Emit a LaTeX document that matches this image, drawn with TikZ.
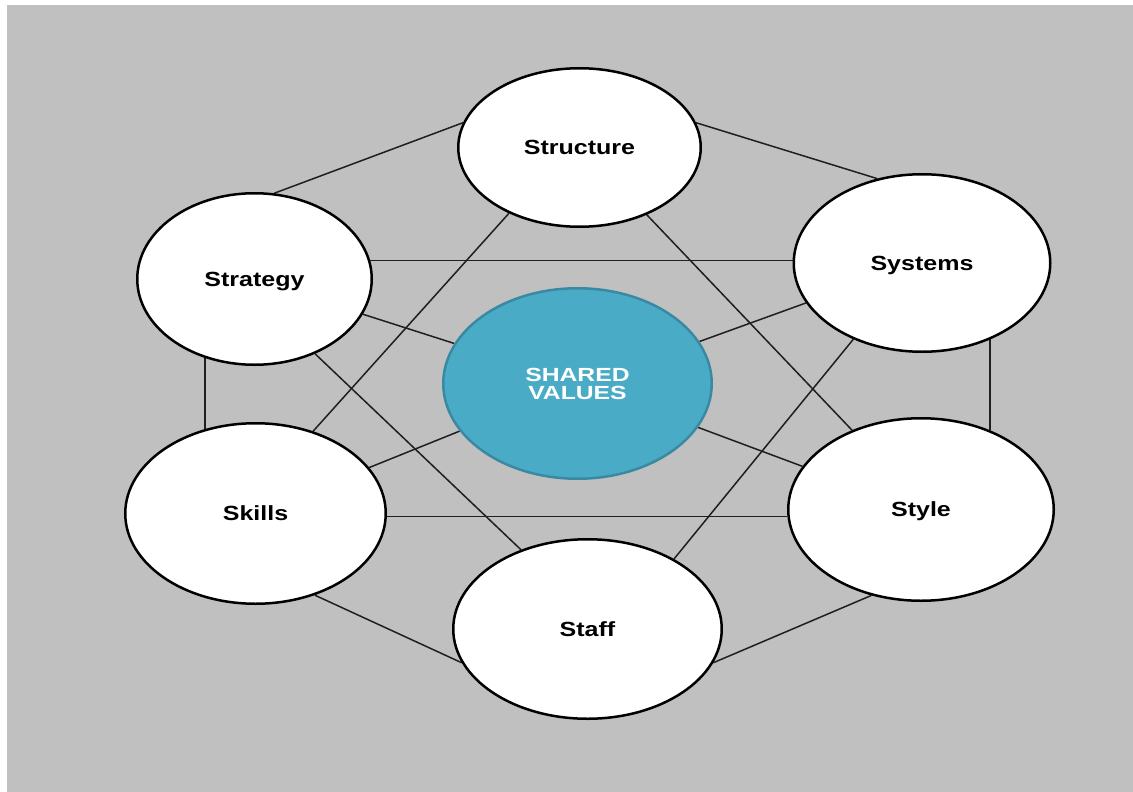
\documentclass[tikz,border=0pt]{standalone}
\usepackage{fontspec}
\usepackage{tikz}
\usetikzlibrary{shapes.geometric}

\newfontfamily\lblfont[FakeStretch=1.22]{Liberation Sans}
\newfontfamily\valfont[FakeStretch=1.3]{Liberation Sans}
\definecolor{panelgray}{HTML}{C0C0C0}
\definecolor{valueblue}{HTML}{4AABC6}
\definecolor{valueedge}{HTML}{3A89A2}
\pgfdeclarelayer{bg}
\pgfdeclarelayer{lines}
\pgfsetlayers{bg,lines,main}

\begin{document}
\begin{tikzpicture}[
		x=1pt, y=-1pt,
		every node/.style={ellipse, draw, line width=2.5pt, fill=white, inner sep=0pt,
			text depth=0pt, font=\lblfont\bfseries\fontsize{20.5}{17.5}\selectfont},
		link/.style={line width=1.5pt, draw=black!88}
	]
  \useasboundingbox (0,0) rectangle (1133,792);
  \begin{pgfonlayer}{bg}
    \fill[white] (0,0) rectangle (1133,792);
    \fill[panelgray] (7,5) rectangle (1133,792);
  \end{pgfonlayer}
  \node (strat) [minimum width=234.5, minimum height=171.5] at (254.5, 279) {Strategy};
  \node (struc) [minimum width=242.5, minimum height=158.5] at (579.5, 147.5) {Structure};
  \node (syst) [minimum width=256.5, minimum height=177.5] at (922, 263) {Systems};
  \node (styl) [minimum width=265.5, minimum height=182.5] at (921, 509.5) {Style};
  \node (staff) [minimum width=268.5, minimum height=179.5] at (587.5, 629) {Staff};
  \node (skill) [minimum width=260.5, minimum height=180.5] at (255.5, 513.5) {Skills};
  \node (shv) [minimum width=268.5, minimum height=190.5, fill=valueblue, draw=valueedge,
    text=white, align=center, text depth=, font=\valfont\bfseries\fontsize{19}{18}\selectfont]
    at (577.5, 383.5) {SHARED\\VALUES};
  \begin{pgfonlayer}{lines}
  % outer ring
  \draw (strat.77) edge [link] (struc.168);
  \draw (struc.12) edge [link] (syst.118);
  \draw (styl.49 |- syst.center) edge [link] (styl.49);
  \draw (styl.-120) edge [link] (staff.-15);
  \draw (staff.195) edge [link] (skill.-54);
  \draw (skill.121 |- strat.center) edge [link] (skill.121);
  % cross links
  \draw (strat.center |- syst.179) edge [link] (syst.179);
  \draw (skill.center |- styl.183) edge [link] (styl.183);
  \draw (struc.223) edge [link] (skill.55);
  \draw (struc.-45) edge [link] (styl.131);
  \draw (strat.-51) edge [link] (staff.130);
  \draw (syst.228) edge [link] (staff.39);
  % spokes to shared values
  \draw (shv.162) edge [link] (strat.-18);
  \draw (shv.19) edge [link] (syst.199);
  \draw (shv.202) edge [link] (skill.22);
  \draw (shv.-20) edge [link] (styl.160);
  \end{pgfonlayer}
\end{tikzpicture}
\end{document}
